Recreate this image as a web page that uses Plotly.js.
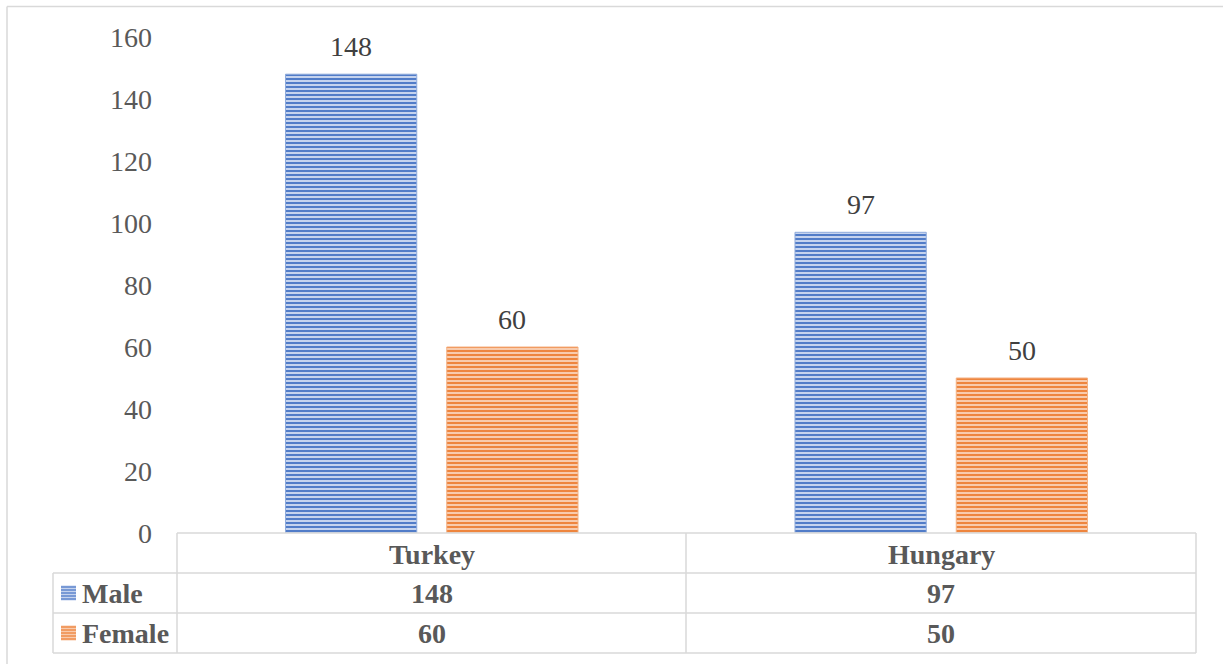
<!DOCTYPE html>
<html>
<head>
<meta charset="utf-8">
<script src="https://cdn.plot.ly/plotly-3.0.1.min.js"></script>
<style>
html,body{margin:0;padding:0;background:#fff;}
#chart{width:1223px;height:664px;}
</style>
</head>
<body>
<div id="chart"></div>
<script>
const categories = ["Turkey", "Hungary"];
const seriesNames = ["Male", "Female"];
const maleValues = [148, 97];
const femaleValues = [60, 50];
const yTicks = [0, 20, 40, 60, 80, 100, 120, 140, 160];

const W = 1223, H = 664;
const L = 177, R = 1196, T = 37, B = 533;
const px = x => (x - L) / (R - L);
const py = y => (B - y) / (B - T);

const serif = "'Liberation Serif', 'Times New Roman', 'DejaVu Serif', serif";
const styles = [
  {fg: "#4472c4", bg: "#c5d3ee", line: "#8eaadb"},
  {fg: "#ed7d31", bg: "#f8cbad", line: "#f4b183"}
];
const allValues = [maleValues, femaleValues];

const traces = allValues.map((vals, i) => ({
  type: "bar",
  name: seriesNames[i],
  x: categories,
  y: vals,
  marker: {
    color: styles[i].bg,
    line: {color: styles[i].line, width: 1},
    pattern: {shape: "-", fgcolor: styles[i].fg, bgcolor: styles[i].bg, size: 4, solidity: 0.45, fillmode: "replace"}
  },
  hoverinfo: "skip",
  showlegend: false
}));

const lineColor = "#d9d9d9";
const shapes = [];
function hline(y, x0, x1) {
  shapes.push({type: "line", xref: "paper", yref: "paper", x0: px(x0), x1: px(x1), y0: py(y), y1: py(y), line: {color: lineColor, width: 1.5}});
}
function vline(x, y0, y1) {
  shapes.push({type: "line", xref: "paper", yref: "paper", x0: px(x), x1: px(x), y0: py(y0), y1: py(y1), line: {color: lineColor, width: 1.5}});
}
hline(6.5, 7, 1240);
vline(7, 6.5, 680);
hline(533, 177, 1196);
hline(573, 53, 1196);
hline(613, 53, 1196);
hline(653, 53, 1196);
vline(53, 573, 653);
vline(177, 533, 653);
vline(686, 533, 653);
vline(1196, 533, 653);

const rowCenters = [593, 633];
styles.forEach((s, i) => {
  const yc = rowCenters[i];
  const y0 = yc - 7.5, y1 = yc + 7.5;
  shapes.push({type: "rect", xref: "paper", yref: "paper", x0: px(61), x1: px(76), y0: py(y1), y1: py(y0), fillcolor: s.bg, line: {width: 0}});
  for (let yy = y0 + 1.5; yy < y1; yy += 3) {
    shapes.push({type: "line", xref: "paper", yref: "paper", x0: px(61), x1: px(76), y0: py(yy), y1: py(yy), line: {color: s.fg, width: 1.2}});
  }
});

const annotations = [];
const offsets = [-80.5, 80.5];
allValues.forEach((vals, i) => {
  vals.forEach((v, j) => {
    annotations.push({
      x: categories[j], y: v, xref: "x", yref: "y", xshift: offsets[i], yshift: 28,
      text: String(v), showarrow: false, yanchor: "middle",
      font: {family: serif, size: 28, color: "#404040"}
    });
  });
});
const colCenters = [431.5, 941];
const tableFont = {family: serif, size: 28, color: "#595959"};
categories.forEach((c, j) => {
  annotations.push({xref: "paper", yref: "paper", x: px(colCenters[j]), y: py(554), text: "<b>" + c + "</b>", showarrow: false, xanchor: "center", yanchor: "middle", font: tableFont});
  allValues.forEach((vals, i) => {
    annotations.push({xref: "paper", yref: "paper", x: px(colCenters[j]), y: py(rowCenters[i]), text: "<b>" + vals[j] + "</b>", showarrow: false, xanchor: "center", yanchor: "middle", font: tableFont});
  });
});
seriesNames.forEach((n, i) => {
  annotations.push({xref: "paper", yref: "paper", x: px(80), y: py(rowCenters[i]), text: "<b>" + n + "</b>", showarrow: false, xanchor: "left", yanchor: "middle", font: tableFont});
});

const layout = {
  width: W, height: H,
  margin: {l: L, r: W - R, t: T, b: H - B, pad: 0},
  paper_bgcolor: "#ffffff",
  plot_bgcolor: "#ffffff",
  barmode: "group",
  bargap: 0.367,
  bargroupgap: 0.186,
  showlegend: false,
  xaxis: {
    showticklabels: false, showgrid: false, zeroline: false, showline: false, ticks: "",
    fixedrange: true
  },
  yaxis: {
    range: [0, 160], tickvals: yTicks, ticktext: yTicks.map(String),
    showgrid: false, zeroline: false, showline: false, ticks: "",
    ticklabelstandoff: 24,
    tickfont: {family: serif, size: 28, color: "#595959"},
    fixedrange: true
  },
  shapes: shapes,
  annotations: annotations
};

Plotly.newPlot("chart", traces, layout, {displayModeBar: false, staticPlot: true});
</script>
</body>
</html>
